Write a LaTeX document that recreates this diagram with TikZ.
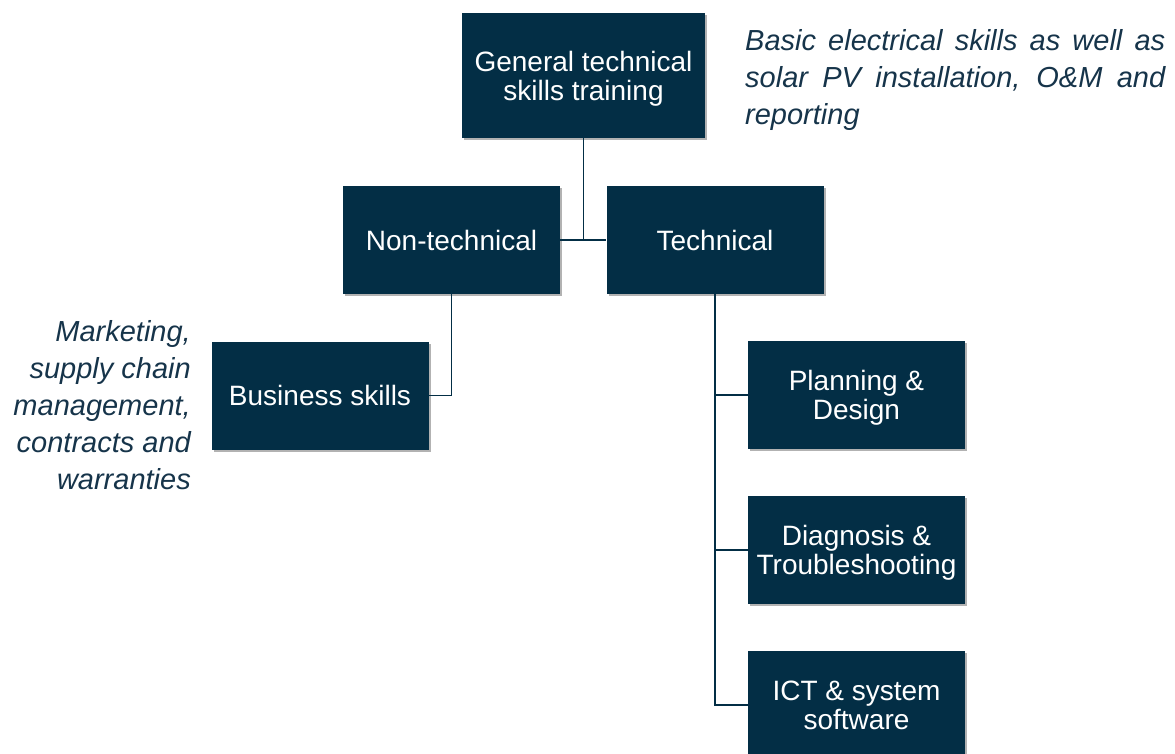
\documentclass[tikz,border=0pt]{standalone}
\usepackage{fontspec}
\setmainfont{Liberation Sans}
\usetikzlibrary{shadows}
\definecolor{navy}{RGB}{3,46,69}
\definecolor{notecol}{RGB}{22,52,74}
\newcommand\tstr{\rule{0pt}{26pt}}
\newcommand\bstr{\rule[-6pt]{0pt}{6pt}}
\begin{document}
\begin{tikzpicture}[x=1pt,y=-1pt,
  box/.style={fill=navy, text=white, inner sep=0pt, align=center,
    minimum width=217pt, minimum height=108pt,
    font=\fontsize{28}{29}\selectfont,
    drop shadow={shadow xshift=2pt, shadow yshift=-2pt, opacity=0.3, fill=black}},
  link/.style={draw=navy, line width=1.6pt},
  note/.style={text=notecol, font=\fontsize{29}{37}\selectfont\itshape, inner sep=0pt}]
\useasboundingbox (0,0) rectangle (1175,753);
\node[box, minimum width=243pt, minimum height=125pt] (gen) at (583.5,75.5) {\tstr General technical\\skills training};
\node[box] (nontech) at (451.5,240) {Non-technical};
\node[box] (tech) at (715,240) {Technical};
\node[box] (biz) at (320,395.5) {Business skills};
\node[box] (plan) at (856.5,395) {\tstr Planning \&\\Design};
\node[box] (diag) at (856.5,550) {\tstr Diagnosis \&\\Troubleshooting};
\node[box] (ict) at (856.5,705) {\tstr ICT \& system\\software\bstr};
\draw[link] (gen.south) -- (gen.south |- tech.west);
\draw[link] (nontech.east) -- (tech.west);
\draw[link] (nontech.south) |- (biz.east);
\draw[link] (tech.south) |- (ict.west);
\draw[link] (tech.south |- plan.west) -- (plan.west);
\draw[link] (tech.south |- diag.west) -- (diag.west);
\node[note, anchor=north west, align=left] (n1) at (745,29)
  {\makebox[420pt][s]{Basic electrical skills as well as}\\
   \makebox[420pt][s]{solar PV installation, O\&M and}\\
   reporting};
\node[note, anchor=north east, align=right] (n2) at (191,320)
  {Marketing,\\supply chain\\management,\\contracts and\\warranties};
\end{tikzpicture}
\end{document}
